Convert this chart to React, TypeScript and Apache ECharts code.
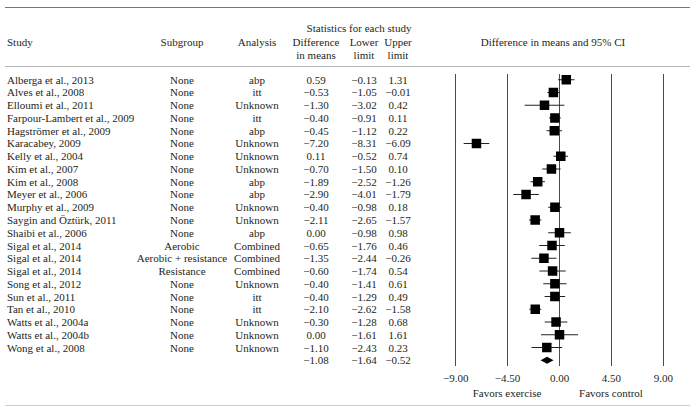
import React, { useEffect, useRef } from "react";
import * as echarts from "echarts";

const studies = [
  "Alberga et al., 2013", "Alves et al., 2008", "Elloumi et al., 2011", "Farpour-Lambert et al., 2009",
  "Hagströmer et al., 2009", "Karacabey, 2009", "Kelly et al., 2004", "Kim et al., 2007", "Kim et al., 2008",
  "Meyer et al., 2006", "Murphy et al., 2009", "Saygin and Öztürk, 2011", "Shaibi et al., 2006",
  "Sigal et al., 2014", "Sigal et al., 2014", "Sigal et al., 2014", "Song et al., 2012", "Sun et al., 2011",
  "Tan et al., 2010", "Watts et al., 2004a", "Watts et al., 2004b", "Wong et al., 2008",
];
const subgroups = [
  "None", "None", "None", "None", "None", "None", "None", "None", "None", "None", "None", "None", "None",
  "Aerobic", "Aerobic + resistance", "Resistance", "None", "None", "None", "None", "None", "None",
];
const analyses = [
  "abp", "itt", "Unknown", "itt", "abp", "Unknown", "Unknown", "Unknown", "abp", "abp", "Unknown", "Unknown",
  "abp", "Combined", "Combined", "Combined", "Unknown", "itt", "itt", "Unknown", "Unknown", "Unknown",
];
const means = [0.59, -0.53, -1.3, -0.4, -0.45, -7.2, 0.11, -0.7, -1.89, -2.9, -0.4, -2.11, 0.0, -0.65, -1.35, -0.6, -0.4, -0.4, -2.1, -0.3, 0.0, -1.1];
const lowers = [-0.13, -1.05, -3.02, -0.91, -1.12, -8.31, -0.52, -1.5, -2.52, -4.01, -0.98, -2.65, -0.98, -1.76, -2.44, -1.74, -1.41, -1.29, -2.62, -1.28, -1.61, -2.43];
const uppers = [1.31, -0.01, 0.42, 0.11, 0.22, -6.09, 0.74, 0.1, -1.26, -1.79, 0.18, -1.57, 0.98, 0.46, -0.26, 0.54, 0.61, 0.49, -1.58, 0.68, 1.61, 0.23];
const pooled = { mean: -1.08, lower: -1.64, upper: -0.52 };
const xTicks = [-9, -4.5, 0, 4.5, 9];

const FONT_FAMILY = '"Liberation Serif", "Times New Roman", serif';
const FONT = `11px ${FONT_FAMILY}`;
const TEXT = "#231f20";

const fmt = (v: number) => (v < 0 ? "\u2212" : "") + Math.abs(v).toFixed(2);

const COL = { study: 7, subgroup: 182, analysis: 257, mean: 316, lower: 364, upper: 398 };

export default function App() {
  const ref = useRef<HTMLDivElement>(null);
  useEffect(() => {
    document.body.style.margin = "0";
    if (!ref.current) return;
    const chart = echarts.init(ref.current, null, { renderer: "svg" });

    const rows = studies.map((s, i) => [i, means[i], lowers[i], uppers[i]]);
    const allRows = [...rows, [studies.length, pooled.mean, pooled.lower, pooled.upper]];
    const nRows = allRows.length;

    const txt = (text: string, x: number, y: number, align = "center") => ({
      type: "text",
      x,
      y,
      style: { text, fill: TEXT, font: FONT, align, verticalAlign: "middle" },
    });

    const option: any = {
      animation: false,
      backgroundColor: "#fff",
      grid: { left: 455.7, right: 35.7, top: 74, height: 292 },
      xAxis: {
        type: "value",
        min: xTicks[0],
        max: xTicks[xTicks.length - 1],
        interval: 4.5,
        axisLine: { show: false },
        axisTick: { show: false },
        splitLine: { show: true, lineStyle: { color: "#4a4a4a", width: 1 } },
        axisLabel: { formatter: fmt, color: TEXT, fontFamily: FONT_FAMILY, fontSize: 11, margin: 6 },
      },
      yAxis: {
        type: "value",
        inverse: true,
        min: -0.45,
        max: nRows - 1 + 0.45,
        show: false,
      },
      graphic: [
        { type: "line", shape: { x1: 5, y1: 7.5, x2: 690, y2: 7.5 }, style: { stroke: "#777", lineWidth: 1 } },
        { type: "line", shape: { x1: 5, y1: 66.5, x2: 690, y2: 66.5 }, style: { stroke: "#b5b5b5", lineWidth: 1 } },
        { type: "line", shape: { x1: 5, y1: 405.5, x2: 690, y2: 405.5 }, style: { stroke: "#cfcfcf", lineWidth: 1 } },
        txt("Statistics for each study", 359, 28),
        txt("Study", COL.study, 42, "left"),
        txt("Subgroup", COL.subgroup, 42),
        txt("Analysis", COL.analysis, 42),
        txt("Difference", COL.mean, 42),
        txt("in means", COL.mean, 55),
        txt("Lower", COL.lower, 42),
        txt("limit", COL.lower, 55),
        txt("Upper", COL.upper, 42),
        txt("limit", COL.upper, 55),
        txt("Difference in means and 95% CI", 553, 42),
        txt("Favors exercise", 507, 393),
        txt("Favors control", 611, 393),
      ],
      series: [
        {
          type: "custom",
          name: "table",
          coordinateSystem: "cartesian2d",
          data: allRows,
          encode: { x: 1, y: 0 },
          silent: true,
          renderItem: (params: any, api: any) => {
            const i = api.value(0);
            const y = api.coord([0, i])[1];
            const children: any[] = [];
            const t = (text: string, x: number, align = "center") =>
              children.push({
                type: "text",
                x,
                y,
                style: { text, fill: TEXT, font: FONT, align, verticalAlign: "middle" },
              });
            if (i < studies.length) {
              t(studies[i], COL.study, "left");
              t(subgroups[i], COL.subgroup);
              t(analyses[i], COL.analysis);
            }
            t(fmt(api.value(1)), COL.mean);
            t(fmt(api.value(2)), COL.lower);
            t(fmt(api.value(3)), COL.upper);
            return { type: "group", children };
          },
        },
        {
          type: "custom",
          name: "forest",
          coordinateSystem: "cartesian2d",
          data: allRows,
          encode: { x: 1, y: 0 },
          silent: true,
          renderItem: (params: any, api: any) => {
            const i = api.value(0);
            const m = api.coord([api.value(1), i]);
            const lo = api.coord([api.value(2), i]);
            const hi = api.coord([api.value(3), i]);
            if (i >= studies.length) {
              const h = 3.6;
              return {
                type: "polygon",
                shape: { points: [[lo[0], m[1]], [m[0], m[1] - h], [hi[0], m[1]], [m[0], m[1] + h]] },
                style: { fill: "#000" },
              };
            }
            const s = 9.5;
            return {
              type: "group",
              children: [
                { type: "line", shape: { x1: lo[0], y1: m[1], x2: hi[0], y2: m[1] }, style: { stroke: "#222", lineWidth: 1 } },
                { type: "rect", shape: { x: m[0] - s / 2, y: m[1] - s / 2, width: s, height: s }, style: { fill: "#000" } },
              ],
            };
          },
        },
      ],
    };
    chart.setOption(option);
    return () => chart.dispose();
  }, []);
  return <div ref={ref} style={{ width: 699, height: 413 }} />;
}
